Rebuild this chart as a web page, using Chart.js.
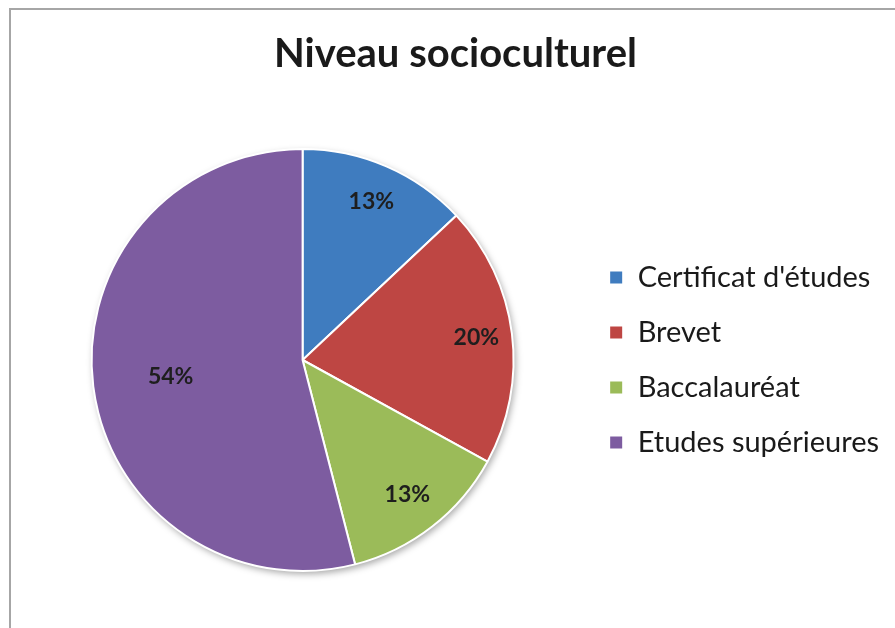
<!DOCTYPE html>
<html>
<head>
<meta charset="utf-8">
<script src="https://cdn.jsdelivr.net/npm/chart.js@4/dist/chart.umd.min.js"></script>
<style>
  html, body { margin: 0; padding: 0; background: #fff; }
  #wrap { width: 895px; height: 628px; }
</style>
</head>
<body>
<div id="wrap"><canvas id="pieChart" width="895" height="628"></canvas></div>
<script>
// Données du graphique
var categories = ["Certificat d'études", "Brevet", "Baccalauréat", "Etudes supérieures"];
var values = [13, 20, 13, 54];
var colors = ["#3F7CBF", "#BE4643", "#9BBB59", "#7D5CA0"];

var fontFamily = "Lato, 'Open Sans', sans-serif";
var total = values.reduce((a, b) => a + b, 0);

// Cadre gris autour du graphique
var framePlugin = {
  id: "frame",
  beforeDraw: function (chart) {
    var ctx = chart.ctx;
    ctx.save();
    ctx.fillStyle = "#ffffff";
    ctx.fillRect(0, 0, chart.width, chart.height);
    ctx.strokeStyle = "#a6a6a6";
    ctx.lineWidth = 2;
    ctx.strokeRect(10, 9, chart.width + 20, chart.height + 20);
    ctx.restore();
  },
};

// Ombre légère sous le camembert
var shadowPlugin = {
  id: "pieShadow",
  beforeDatasetsDraw: function (chart) {
    var arc = chart.getDatasetMeta(0).data[0];
    if (!arc) return;
    var ctx = chart.ctx;
    ctx.save();
    ctx.shadowColor = "rgba(0,0,0,0.35)";
    ctx.shadowBlur = 7;
    ctx.shadowOffsetX = 2;
    ctx.shadowOffsetY = 3;
    ctx.fillStyle = "#ffffff";
    ctx.beginPath();
    ctx.arc(arc.x, arc.y, arc.outerRadius, 0, Math.PI * 2);
    ctx.fill();
    ctx.restore();
  },
};

// Étiquettes de pourcentage dans les parts
var labelPlugin = {
  id: "pctLabels",
  afterDatasetsDraw: function (chart, args, opts) {
    var ctx = chart.ctx;
    var meta = chart.getDatasetMeta(0);
    ctx.save();
    ctx.font = "bold 23px " + fontFamily;
    ctx.fillStyle = "#1e1e1e";
    ctx.textAlign = "center";
    ctx.textBaseline = "middle";
    meta.data.forEach(function (arc, i) {
      var mid = (arc.startAngle + arc.endAngle) / 2;
      var r = arc.outerRadius * opts.radius[i];
      var x = arc.x + Math.cos(mid) * r;
      var y = arc.y + Math.sin(mid) * r;
      var pct = Math.round((values[i] / total) * 100) + "%";
      ctx.fillText(pct, x, y);
    });
    ctx.restore();
  },
};

new Chart(document.getElementById("pieChart").getContext("2d"), {
  type: "pie",
  data: {
    labels: categories,
    datasets: [
      {
        data: values,
        backgroundColor: colors,
        borderColor: "#ffffff",
        borderWidth: 2,
      },
    ],
  },
  options: {
    responsive: false,
    animation: false,
    layout: { padding: { left: 22, right: 6, top: 10, bottom: 56 } },
    plugins: {
      title: {
        display: true,
        text: "Niveau socioculturel",
        color: "#1a1a1a",
        font: { family: fontFamily, size: 40, weight: "bold" },
        padding: { top: 20, bottom: 70 },
      },
      legend: {
        position: "right",
        align: "center",
        fullSize: false,
        labels: {
          color: "#1a1a1a",
          font: { family: fontFamily, size: 29 },
          boxWidth: 14,
          boxHeight: 14,
          padding: 26,
        },
      },
      tooltip: { enabled: false },
      pctLabels: { radius: [0.82, 0.83, 0.81, 0.63] },
    },
  },
  plugins: [framePlugin, shadowPlugin, labelPlugin],
});
</script>
</body>
</html>
